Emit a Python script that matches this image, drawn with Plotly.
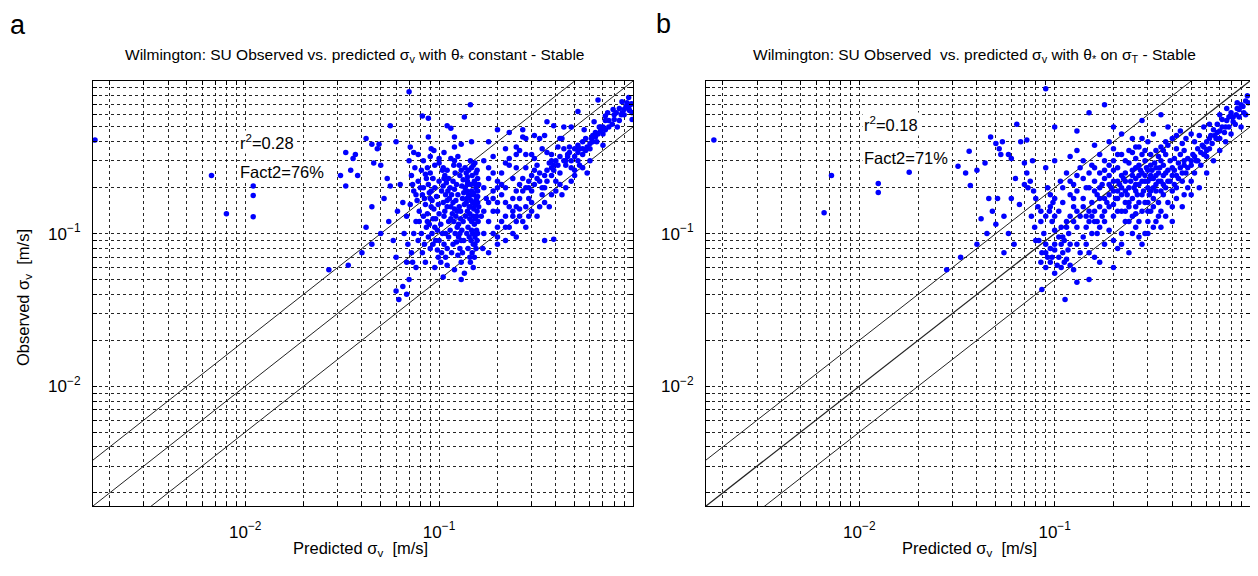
import math
import plotly.graph_objects as go

# ---------------- data ----------------
points_a = [
    # dense vertical column near 0.15
    (0.145,0.30),(0.15,0.28),(0.142,0.26),(0.155,0.25),(0.148,0.24),(0.152,0.22),(0.14,0.21),(0.155,0.20),
    (0.147,0.19),(0.15,0.18),(0.143,0.175),(0.156,0.17),(0.149,0.16),(0.153,0.155),(0.145,0.15),(0.151,0.145),
    (0.157,0.14),(0.144,0.135),(0.15,0.13),(0.154,0.125),(0.147,0.12),(0.152,0.115),(0.141,0.11),(0.156,0.105),
    (0.149,0.10),(0.153,0.095),(0.146,0.09),(0.15,0.085),(0.155,0.08),(0.148,0.075),(0.152,0.07),(0.145,0.065),
    (0.15,0.06),(0.135,0.055),(0.155,0.165),(0.158,0.19),(0.16,0.21),(0.158,0.23),(0.16,0.15),(0.159,0.12),
    (0.139,0.19),(0.138,0.16),(0.137,0.13),(0.14,0.235),
    (0.136,0.27),(0.138,0.25),(0.14,0.22),(0.136,0.20),(0.142,0.18),(0.139,0.17),(0.143,0.15),(0.14,0.14),
    (0.144,0.125),(0.139,0.10),(0.143,0.095),(0.141,0.08),(0.144,0.07),(0.146,0.21),(0.147,0.27),(0.153,0.29),
    (0.157,0.26),(0.154,0.21),(0.151,0.185),(0.158,0.175),(0.146,0.165),(0.158,0.16),(0.156,0.13),(0.147,0.105),
    (0.158,0.10),(0.153,0.085),(0.157,0.09),
    # main cluster body
    (0.07,0.30),(0.075,0.27),(0.072,0.24),(0.078,0.22),(0.08,0.20),(0.074,0.19),(0.082,0.18),(0.077,0.165),
    (0.085,0.155),(0.079,0.14),(0.083,0.13),(0.076,0.12),(0.086,0.11),(0.081,0.10),(0.088,0.095),(0.084,0.085),
    (0.09,0.08),(0.087,0.27),(0.09,0.25),(0.093,0.23),(0.088,0.21),(0.095,0.20),(0.091,0.19),(0.097,0.175),
    (0.092,0.165),(0.099,0.155),(0.094,0.145),(0.1,0.135),(0.096,0.125),(0.102,0.115),(0.098,0.105),(0.104,0.10),
    (0.1,0.09),(0.106,0.085),(0.103,0.075),(0.108,0.07),(0.1,0.29),(0.105,0.27),(0.11,0.26),(0.107,0.24),
    (0.112,0.23),(0.109,0.215),(0.114,0.20),(0.111,0.19),(0.116,0.18),(0.113,0.17),(0.118,0.16),(0.115,0.15),
    (0.12,0.145),(0.117,0.135),(0.122,0.13),(0.119,0.12),(0.124,0.11),(0.121,0.10),(0.126,0.095),(0.123,0.088),
    (0.128,0.08),(0.125,0.072),(0.13,0.065),(0.127,0.28),(0.13,0.26),(0.128,0.24),(0.133,0.225),(0.131,0.205),
    (0.134,0.185),(0.132,0.17),(0.135,0.155),(0.129,0.14),(0.133,0.12),(0.131,0.105),(0.134,0.09),(0.132,0.075),
    (0.065,0.16),(0.068,0.13),(0.066,0.10),(0.069,0.085),(0.072,0.075),(0.063,0.21),(0.061,0.14),(0.068,0.065),
    (0.076,0.06),(0.085,0.065),(0.095,0.06),(0.11,0.062),(0.12,0.058),(0.105,0.052),(0.13,0.05),(0.07,0.05),
    (0.065,0.045),(0.068,0.04),(0.062,0.037),(0.06,0.042),(0.09,0.32),(0.1,0.31),(0.12,0.3),(0.115,0.31),
    (0.125,0.32),(0.083,0.3),(0.095,0.28),(0.085,0.245),(0.1,0.22),(0.105,0.205),(0.09,0.17),(0.11,0.165),
    (0.087,0.135),(0.107,0.14),(0.095,0.11),(0.115,0.125),(0.112,0.095),(0.092,0.1),(0.118,0.085),(0.098,0.078),
    (0.081,0.26),(0.086,0.23),(0.083,0.20),(0.089,0.185),(0.084,0.17),(0.091,0.15),(0.087,0.12),(0.093,0.125),
    (0.089,0.115),(0.096,0.09),(0.093,0.085),(0.099,0.07),(0.102,0.065),(0.104,0.26),(0.106,0.23),(0.103,0.19),
    (0.108,0.18),(0.105,0.16),(0.11,0.15),(0.106,0.13),(0.112,0.12),(0.108,0.10),(0.114,0.105),(0.11,0.08),
    (0.116,0.075),(0.119,0.28),(0.121,0.25),(0.118,0.22),(0.123,0.21),(0.12,0.195),(0.125,0.18),(0.122,0.165),
    (0.127,0.15),(0.124,0.14),(0.129,0.125),(0.126,0.115),(0.128,0.10),(0.13,0.09),(0.073,0.21),(0.076,0.18),
    (0.071,0.155),(0.079,0.12),(0.074,0.10),(0.078,0.09),(0.082,0.075),(0.073,0.065),
    # upper fringe
    (0.07,0.85),(0.145,0.70),(0.082,0.59),(0.088,0.57),(0.135,0.58),(0.056,0.51),(0.11,0.51),(0.115,0.49),
    (0.088,0.43),(0.12,0.43),(0.042,0.42),(0.045,0.385),(0.049,0.385),(0.048,0.36),(0.06,0.40),(0.071,0.37),
    (0.074,0.34),(0.078,0.33),(0.091,0.36),(0.094,0.35),(0.106,0.34),(0.12,0.37),(0.13,0.385),(0.147,0.40),
    (0.033,0.34),(0.036,0.31),(0.037,0.33),(0.046,0.29),(0.05,0.28),(0.031,0.24),(0.035,0.26),(0.038,0.24),
    (0.033,0.205),(0.054,0.23),(0.056,0.205),
    # left sparse points
    (0.00168,0.41),(0.0067,0.24),(0.011,0.205),(0.011,0.178),(0.011,0.129),(0.008,0.135),
    # lower fringe
    (0.027,0.058),(0.034,0.062),(0.04,0.075),(0.045,0.085),(0.05,0.10),(0.042,0.11),(0.055,0.12),(0.058,0.09),
    (0.045,0.15),(0.052,0.17),(0.06,0.07),
    # second cluster along the diagonal
    (0.877,0.73),(0.98,0.71),(0.79,0.65),(0.96,0.64),(0.99,0.56),(0.72,0.59),(0.83,0.50),(0.63,0.54),
    (0.67,0.50),(0.56,0.48),(0.36,0.54),(0.44,0.50),(0.48,0.50),(0.23,0.46),(0.27,0.43),(0.28,0.42),
    (0.31,0.44),(0.43,0.42),(0.47,0.37),(0.44,0.36),(0.55,0.40),(0.58,0.37),(0.52,0.34),(0.61,0.42),
    (0.19,0.32),(0.22,0.36),(0.23,0.31),(0.25,0.33),(0.25,0.37),(0.28,0.33),(0.31,0.31),(0.36,0.34),
    (0.38,0.33),(0.41,0.37),(0.46,0.33),(0.32,0.28),(0.38,0.27),(0.39,0.26),(0.25,0.27),(0.48,0.27),
    (0.66,0.75),(0.52,0.63),(0.39,0.51),(0.35,0.44),(0.33,0.42),(0.42,0.42),(0.27,0.48),(0.20,0.48),(0.18,0.40),
    (0.3,0.14),(0.35,0.16),(0.4,0.19),(0.25,0.12),(0.2,0.095),(0.45,0.2),(0.5,0.24),(0.55,0.27),(0.6,0.3),
    (0.35,0.09),(0.39,0.092),(0.18,0.12),(0.19,0.14),(0.2,0.16),(0.21,0.18),(0.22,0.2),(0.19,0.10),(0.2,0.11),
    (0.22,0.13),(0.23,0.15),(0.24,0.17),(0.25,0.19),(0.26,0.21),(0.27,0.23),(0.28,0.15),(0.29,0.17),(0.3,0.19),
    (0.31,0.21),(0.32,0.23),(0.33,0.25),(0.26,0.13),(0.27,0.12),(0.3,0.16),(0.35,0.2),(0.36,0.22),(0.38,0.24),
    (0.4,0.22),(0.42,0.25),(0.45,0.28),(0.48,0.30),(0.5,0.32),(0.52,0.30),(0.55,0.33),(0.6,0.36),(0.65,0.40),
    (0.7,0.45),(0.75,0.50),(0.85,0.55),(0.9,0.60),(0.62,0.44),(0.68,0.50),(0.72,0.55),(0.8,0.60),(0.92,0.68),
    (0.58,0.25),(0.48,0.22),(0.43,0.18),(0.37,0.15),(0.32,0.13),(0.28,0.11),(0.24,0.10),(0.17,0.20),(0.18,0.23),
    (0.175,0.17),(0.165,0.13),(0.17,0.10),(0.168,0.08),(0.18,0.075),(0.2,0.085),(0.22,0.09),(0.25,0.095),
    (0.21,0.25),(0.23,0.28),(0.2,0.22),(0.19,0.19),(0.22,0.16),(0.24,0.14),(0.29,0.2),(0.34,0.18),(0.41,0.28),
    (0.53,0.36),(0.64,0.46),(0.74,0.62),(0.88,0.62),(0.95,0.78),(0.7,0.38),(0.57,0.42),(0.45,0.3),
    (0.17,0.14),(0.18,0.16),(0.19,0.17),(0.2,0.2),(0.21,0.21),(0.2,0.14),(0.21,0.12),(0.23,0.11),(0.24,0.13),
    (0.25,0.15),(0.26,0.17),(0.27,0.19),(0.28,0.2),(0.29,0.22),(0.3,0.24),(0.31,0.26),(0.33,0.22),(0.34,0.2),
    (0.35,0.24),(0.36,0.26),(0.37,0.29),(0.38,0.3),(0.39,0.28),(0.4,0.3),(0.42,0.32),(0.44,0.3),(0.46,0.32),
    (0.47,0.34),(0.5,0.36),(0.52,0.38),(0.55,0.36),(0.57,0.35),(0.6,0.39),(0.62,0.4),(0.64,0.43),(0.66,0.45),
    (0.68,0.47),(0.7,0.5),(0.72,0.48),(0.75,0.55),(0.78,0.52),(0.8,0.56),(0.82,0.62),(0.85,0.66),(0.87,0.6),
    (0.9,0.65),(0.93,0.72),(0.95,0.66),(0.97,0.7),(0.99,0.62),(0.22,0.11),(0.26,0.145),(0.29,0.13),(0.33,0.15),
    (0.38,0.18),(0.42,0.21),(0.5,0.26),(0.53,0.28),(0.24,0.23),(0.28,0.27),(0.22,0.29),(0.26,0.35),(0.3,0.33),
    (0.34,0.36),(0.19,0.25),(0.18,0.27),(0.17,0.3),
]

points_b = [
    # left fringe
    (0.0018,0.41),(0.0072,0.24),(0.0066,0.137),(0.018,0.252),(0.0125,0.213),(0.0125,0.186),
    (0.0365,0.346),(0.032,0.276),(0.035,0.25),(0.04,0.26),(0.044,0.29),(0.037,0.207),(0.047,0.43),(0.05,0.39),
    (0.054,0.40),(0.064,0.52),(0.067,0.40),(0.072,0.41),(0.052,0.36),(0.053,0.33),(0.058,0.33),(0.06,0.31),
    (0.07,0.29),(0.077,0.30),(0.063,0.23),(0.07,0.21),(0.073,0.20),(0.046,0.17),(0.051,0.17),(0.06,0.17),
    (0.066,0.155),(0.028,0.058),(0.033,0.07),(0.04,0.085),(0.045,0.10),(0.05,0.115),(0.055,0.13),(0.042,0.125),
    (0.048,0.14),(0.058,0.10),(0.062,0.085),(0.055,0.075),
    # top outliers
    (0.09,0.89),(0.15,0.62),(0.18,0.70),(0.10,0.50),(0.13,0.47),(0.2,0.50),(0.28,0.55),(0.35,0.60),
    # dense main band
    (0.072,0.25),(0.075,0.22),(0.078,0.19),(0.08,0.17),(0.082,0.15),(0.076,0.13),(0.085,0.12),(0.079,0.11),
    (0.088,0.10),(0.083,0.09),(0.09,0.085),(0.086,0.075),(0.092,0.07),(0.095,0.065),(0.09,0.06),(0.1,0.055),
    (0.086,0.043),(0.113,0.037),(0.095,0.18),(0.092,0.20),(0.098,0.16),(0.094,0.14),(0.1,0.13),(0.097,0.12),
    (0.1,0.105),(0.105,0.095),(0.108,0.085),(0.11,0.075),(0.115,0.068),(0.12,0.062),(0.125,0.058),(0.105,0.07),
    (0.1,0.078),(0.112,0.09),(0.118,0.10),(0.108,0.11),(0.115,0.12),(0.105,0.14),(0.11,0.16),(0.12,0.18),
    (0.107,0.22),(0.115,0.25),(0.09,0.27),(0.1,0.30),(0.12,0.32),(0.13,0.35),(0.14,0.30),(0.135,0.27),
    (0.13,0.24),(0.125,0.21),(0.13,0.19),(0.14,0.17),(0.125,0.15),(0.135,0.13),(0.13,0.11),(0.14,0.095),
    (0.145,0.085),(0.15,0.075),(0.16,0.07),(0.155,0.10),(0.15,0.12),(0.16,0.14),(0.155,0.16),(0.165,0.18),
    (0.15,0.20),(0.16,0.22),(0.17,0.25),(0.155,0.28),(0.18,0.30),(0.17,0.33),(0.16,0.38),(0.19,0.40),
    (0.2,0.36),(0.21,0.33),(0.19,0.28),(0.2,0.26),(0.18,0.23),(0.19,0.21),(0.2,0.19),(0.18,0.17),
    (0.19,0.15),(0.2,0.13),(0.18,0.12),(0.19,0.105),(0.2,0.09),(0.21,0.08),(0.22,0.10),(0.23,0.12),
    (0.22,0.14),(0.23,0.16),(0.22,0.18),(0.24,0.20),(0.23,0.22),(0.22,0.24),(0.25,0.26),(0.24,0.29),
    (0.26,0.31),(0.25,0.34),(0.27,0.37),(0.28,0.33),(0.29,0.30),(0.27,0.28),(0.28,0.25),(0.26,0.23),
    (0.27,0.21),(0.26,0.19),(0.28,0.18),(0.25,0.17),(0.27,0.16),(0.26,0.15),(0.28,0.14),(0.25,0.13),
    (0.27,0.12),(0.26,0.11),(0.29,0.10),(0.3,0.12),(0.31,0.14),(0.3,0.16),(0.32,0.17),(0.31,0.19),
    (0.3,0.20),(0.33,0.21),(0.32,0.23),(0.34,0.25),(0.33,0.27),(0.31,0.28),(0.35,0.30),(0.34,0.32),
    (0.36,0.35),(0.38,0.38),(0.37,0.33),(0.36,0.28),(0.38,0.26),(0.36,0.24),(0.35,0.22),(0.37,0.20),
    (0.36,0.18),(0.34,0.16),(0.35,0.14),(0.37,0.13),(0.33,0.12),(0.4,0.15),(0.42,0.17),(0.4,0.19),
    (0.41,0.21),(0.39,0.22),(0.42,0.24),(0.4,0.27),(0.43,0.29),(0.41,0.31),(0.44,0.33),(0.42,0.36),
    (0.45,0.39),(0.47,0.42),(0.46,0.35),(0.48,0.31),(0.46,0.28),(0.47,0.25),(0.45,0.22),(0.48,0.20),
    (0.46,0.18),(0.5,0.22),(0.52,0.25),(0.5,0.28),(0.53,0.30),(0.51,0.33),(0.54,0.36),(0.52,0.40),
    (0.55,0.44),(0.57,0.38),(0.58,0.33),(0.56,0.28),(0.6,0.32),(0.62,0.36),(0.6,0.40),(0.63,0.44),
    (0.65,0.48),(0.62,0.52),(0.67,0.42),(0.7,0.47),(0.68,0.52),(0.72,0.56),(0.75,0.50),(0.78,0.58),
    (0.8,0.62),(0.76,0.66),(0.82,0.54),(0.85,0.60),(0.88,0.65),(0.9,0.70),(0.93,0.62),(0.95,0.74),
    (0.97,0.80),(0.86,0.72),(0.7,0.60),(0.58,0.50),(0.5,0.45),(0.44,0.47),(0.38,0.50),(0.3,0.40),
    (0.32,0.45),(0.25,0.42),(0.22,0.45),(0.3,0.10),(0.35,0.11),(0.4,0.12),(0.28,0.085),(0.24,0.075),
    (0.2,0.06),(0.17,0.065),(0.15,0.05),(0.13,0.048),(0.45,0.15),(0.5,0.18),(0.55,0.20),(0.6,0.25),
    (0.65,0.30),(0.7,0.35),(0.75,0.40),(0.8,0.45),(0.9,0.50),
    (0.21,0.17),(0.23,0.19),(0.24,0.15),(0.29,0.22),(0.31,0.24),(0.33,0.19),(0.29,0.16),(0.32,0.15),
    (0.21,0.14),(0.24,0.12),(0.17,0.15),(0.165,0.12),(0.17,0.2),(0.21,0.22),(0.26,0.27),(0.3,0.26),
    (0.085,0.065),(0.09,0.075),(0.095,0.08),(0.1,0.085),(0.097,0.07),(0.103,0.062),(0.108,0.06),(0.112,0.065),
    (0.117,0.078),(0.12,0.085),(0.11,0.095),(0.115,0.11),(0.12,0.13),(0.125,0.12),(0.13,0.14),(0.125,0.17),
    (0.14,0.15),(0.145,0.13),(0.145,0.11),(0.15,0.14),(0.155,0.13),(0.16,0.12),(0.165,0.10),(0.17,0.11),
    (0.175,0.13),(0.18,0.14),(0.185,0.16),(0.19,0.18),(0.195,0.20),(0.2,0.22),(0.205,0.17),(0.21,0.19),
    (0.215,0.21),(0.22,0.20),(0.225,0.23),(0.23,0.25),(0.235,0.18),(0.24,0.16),(0.245,0.22),(0.25,0.24),
    (0.255,0.20),(0.26,0.21),(0.265,0.18),(0.27,0.24),(0.275,0.26),(0.28,0.22),(0.285,0.19),(0.29,0.24),
    (0.295,0.27),(0.3,0.22),(0.305,0.18),(0.31,0.23),(0.315,0.26),(0.32,0.20),(0.325,0.29),(0.33,0.24),
    (0.34,0.22),(0.345,0.27),(0.35,0.19),(0.36,0.21),(0.37,0.25),(0.38,0.22),(0.39,0.30),(0.4,0.24),
    (0.41,0.26),(0.42,0.20),(0.43,0.23),(0.44,0.27),(0.45,0.25),(0.46,0.30),(0.48,0.27),(0.5,0.30),
    (0.52,0.32),(0.54,0.30),(0.56,0.34),(0.58,0.37),(0.6,0.35),(0.62,0.42),(0.64,0.39),(0.66,0.44),
    (0.68,0.46),(0.7,0.42),(0.72,0.50),(0.74,0.46),(0.76,0.55),(0.78,0.50),(0.82,0.58),(0.84,0.52),
    (0.86,0.66),(0.88,0.58),(0.92,0.68),(0.95,0.60),(0.98,0.72),(0.13,0.085),(0.135,0.075),(0.18,0.085),
    (0.22,0.085),(0.25,0.10),(0.27,0.095),(0.32,0.11),(0.34,0.13),(0.38,0.16),(0.3,0.14),(0.26,0.135),
    (0.23,0.14),(0.2,0.155),(0.17,0.17),(0.16,0.19),(0.175,0.21),(0.145,0.20),(0.14,0.23),(0.15,0.25),
    (0.16,0.27),(0.18,0.26),(0.19,0.24),(0.21,0.27),(0.23,0.30),(0.22,0.33),(0.24,0.35),(0.26,0.37),
    (0.29,0.35),(0.31,0.33),(0.33,0.35),(0.35,0.37),(0.37,0.40),(0.4,0.42),(0.42,0.44),(0.28,0.42),
    (0.2,0.30),(0.12,0.22),(0.11,0.20),(0.1,0.17),(0.095,0.15),(0.09,0.13),(0.085,0.14),(0.08,0.09),
]

pred_a = [p[0] for p in points_a]
obs_a = [p[1] for p in points_a]
pred_b = [p[0] for p in points_b]
obs_b = [p[1] for p in points_b]

stats_a = ["r<sup>2</sup>=0.28", "Fact2=76%"]
stats_b = ["r<sup>2</sup>=0.18", "Fact2=71%"]

titles = [
    "Wilmington: SU Observed vs. predicted σ<sub>v</sub> with θ<sub>*</sub> constant - Stable",
    "Wilmington: SU Observed  vs. predicted σ<sub>v</sub> with θ<sub>*</sub> on σ<sub>T</sub> - Stable",
]
x_title = "Predicted σ<sub>v</sub>  [m/s]"
y_title = "Observed σ<sub>v</sub>  [m/s]"

LOG_LO, LOG_HI = -2.785, 0.0
grid_vals = [m * 10.0 ** e for e in (-3, -2, -1) for m in range(1, 10)]
grid_vals = [v for v in grid_vals if LOG_LO < math.log10(v) < LOG_HI]
decade_labels = {0.01: "10<sup>−2</sup>", 0.1: "10<sup>−1</sup>"}
tick_text = [decade_labels.get(round(v, 6), "") for v in grid_vals]

# ---------------- figure ----------------
OFF = 8                      # page body margin
W, H = 1258 - OFF, 576 - OFF
FONT = "Liberation Sans, Arial, sans-serif"

def px_x(p):
    return (p - OFF) / W

def px_y(p):
    return 1 - (p - OFF) / H

fig = go.Figure()

ref_x = [10 ** LOG_LO / 2, 10 ** LOG_HI * 2]
for (xa, ya, px_, py_) in (("x", "y", pred_a, obs_a), ("x2", "y2", pred_b, obs_b)):
    for factor in (2.0, 1.0, 0.5):
        fig.add_trace(go.Scatter(
            x=ref_x, y=[v * factor for v in ref_x], mode="lines",
            line=dict(color="#222222", width=1.3 if (xa == "x2" and factor == 1.0) else 1),
            xaxis=xa, yaxis=ya, showlegend=False, hoverinfo="skip"))
    fig.add_trace(go.Scatter(
        x=px_, y=py_, mode="markers",
        marker=dict(color="#0000ff", size=5.5, line=dict(width=0)),
        xaxis=xa, yaxis=ya, showlegend=False))

axis_common = dict(
    type="log", range=[LOG_LO, LOG_HI], tickmode="array",
    tickvals=grid_vals, ticktext=tick_text,
    showgrid=True, gridcolor="rgba(0,0,0,0.85)", griddash="3px,3px", gridwidth=1,
    ticks="inside", ticklen=4, tickcolor="black", mirror="ticks",
    showline=True, linecolor="black", linewidth=1.2,
    zeroline=False, tickfont=dict(family=FONT, size=17, color="black"),
)

dom_y = [px_y(506), px_y(81)]
fig.update_layout(
    width=W, height=H, margin=dict(l=0, r=0, t=0, b=0),
    paper_bgcolor="white", plot_bgcolor="white",
    xaxis=dict(domain=[px_x(93), px_x(633)], anchor="y", ticklabelstandoff=10, **axis_common),
    yaxis=dict(domain=dom_y, anchor="x", ticklabelstandoff=8, **axis_common),
    xaxis2=dict(domain=[px_x(706), px_x(1250)], anchor="y2", ticklabelstandoff=10, **axis_common),
    yaxis2=dict(domain=dom_y, anchor="x2", ticklabelstandoff=8, **axis_common),
)

ann = []
def paper_text(text, x, y, size, **kw):
    ann.append(dict(text=text, x=px_x(x), y=px_y(y), xref="paper", yref="paper",
                    xanchor="center", yanchor="middle", showarrow=False,
                    font=dict(family=FONT, size=size, color="black"), **kw))

paper_text("a", 18, 25, 27)
paper_text("b", 663, 24, 27)
paper_text(titles[0], 354, 55, 15.5)
paper_text(titles[1], 975, 55, 15.5)
paper_text(x_title, 360, 549, 16.5)
paper_text(x_title, 970, 549, 16.5)
paper_text(y_title, 24, 298, 16.5, textangle=-90)

# stats text placed in data coordinates (log axes use exponent units)
for (xr, yr, stats, xpos, ys) in (("x", "y", stats_a, 0.0092, (0.40, 0.255)),
                                  ("x2", "y2", stats_b, 0.0103, (0.52, 0.315))):
    for s, yv in zip(stats, ys):
        ann.append(dict(text=s, x=math.log10(xpos), y=math.log10(yv), xref=xr, yref=yr,
                        xanchor="left", yanchor="middle", showarrow=False, bgcolor="white",
                        font=dict(family=FONT, size=16.5, color="black")))

fig.update_layout(annotations=ann)
fig.write_html("out.html")
